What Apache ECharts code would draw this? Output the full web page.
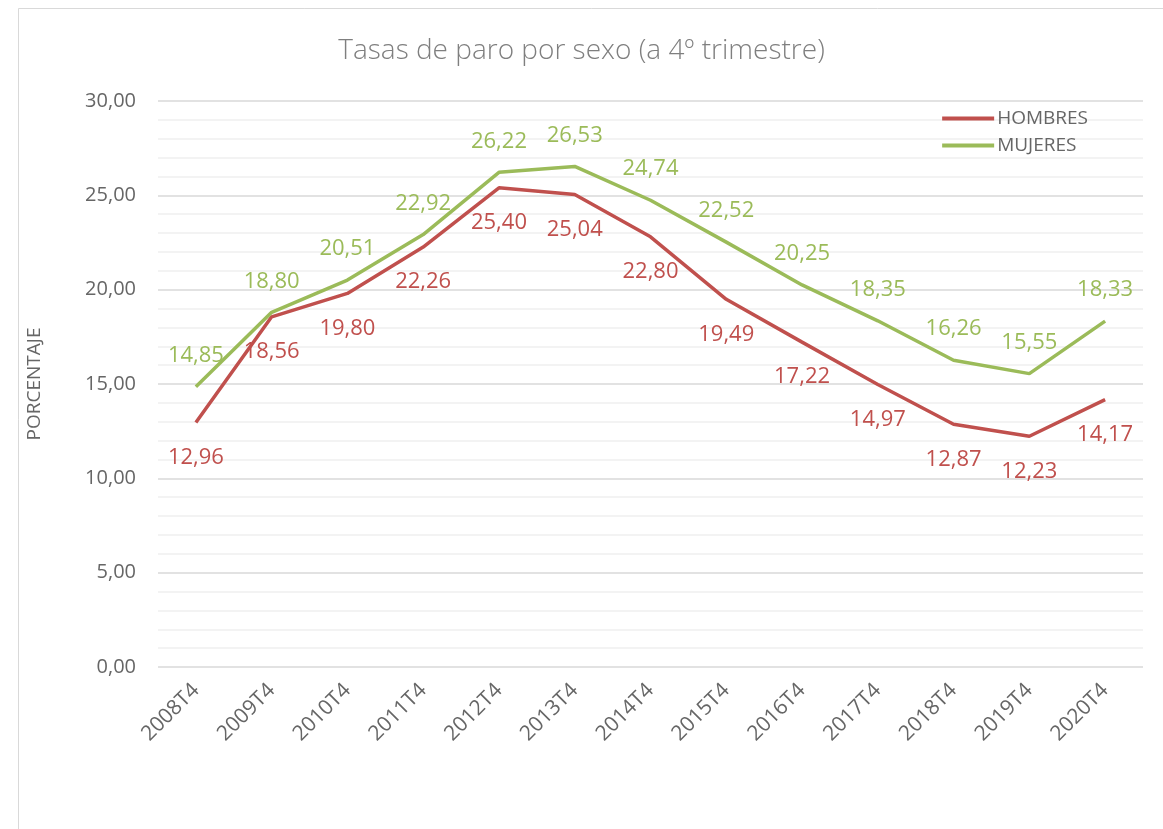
<!DOCTYPE html>
<html>
<head>
<meta charset="utf-8">
<script src="https://cdn.jsdelivr.net/npm/echarts@6/dist/echarts.min.js"></script>
<style>
  html, body { margin: 0; padding: 0; background: #fff; }
  #tubiao { width: 1163px; height: 829px; }
</style>
</head>
<body>
<div id="tubiao"></div>
<script>
// datos de la gráfica
var periodos = ['2008T4','2009T4','2010T4','2011T4','2012T4','2013T4','2014T4','2015T4','2016T4','2017T4','2018T4','2019T4','2020T4'];
var hombres = [12.96, 18.56, 19.80, 22.26, 25.40, 25.04, 22.80, 19.49, 17.22, 14.97, 12.87, 12.23, 14.17];
var mujeres = [14.85, 18.80, 20.51, 22.92, 26.22, 26.53, 24.74, 22.52, 20.25, 18.35, 16.26, 15.55, 18.33];

var fuente = '"Open Sans", "Noto Sans", sans-serif';

var myChart = echarts.init(document.getElementById('tubiao'));
var fmt = function (p) { return p.value.toFixed(2).replace('.', ','); };

var option = {
    backgroundColor: '#fff',
    textStyle: { fontFamily: fuente },
    title: {
        text: 'Tasas de paro por sexo (a 4º trimestre)',
        left: 'center',
        top: 32,
        textStyle: { fontFamily: fuente, fontSize: 28, fontWeight: 300, color: '#7f7f7f' }
    },
    legend: {
        orient: 'vertical',
        right: 70,
        top: 104,
        itemWidth: 52,
        itemHeight: 4,
        itemGap: 8,
        icon: 'rect',
        textStyle: { fontSize: 19, color: '#666', padding: [0, 0, 0, -2] },
        data: ['HOMBRES', 'MUJERES']
    },
    graphic: [{
        type: 'rect',
        shape: { x: 18.5, y: 8.5, width: 1200, height: 900 },
        style: { fill: 'none', stroke: '#d9d9d9', lineWidth: 1 },
        silent: true
    }],
    grid: { left: 158, right: 20, top: 101, bottom: 162 },
    xAxis: {
        type: 'category',
        data: periodos,
        boundaryGap: true,
        axisLine: { show: false },
        axisTick: { show: false },
        axisLabel: { rotate: 45, fontSize: 21, color: '#666', margin: 20 }
    },
    yAxis: {
        type: 'value',
        min: 0,
        max: 30,
        interval: 5,
        name: 'PORCENTAJE',
        nameLocation: 'middle',
        nameGap: 114,
        nameTextStyle: { fontSize: 19, color: '#666' },
        axisLine: { show: false },
        axisTick: { show: false },
        axisLabel: {
            fontSize: 20, color: '#666', margin: 22,
            formatter: function (v) { return v.toFixed(2).replace('.', ','); }
        },
        splitLine: { lineStyle: { color: '#d9d9d9', width: 1.5 } },
        minorTick: { show: false, splitNumber: 5 },
        minorSplitLine: { show: true, lineStyle: { color: '#f0f0f0', width: 1.5 } }
    },
    series: [
        {
            name: 'HOMBRES',
            type: 'line',
            data: hombres,
            showSymbol: true,
            symbol: 'circle',
            symbolSize: 0.1,
            itemStyle: { color: '#C0504D' },
            lineStyle: { color: '#C0504D', width: 3.5 },
            label: {
                show: true, position: 'bottom', distance: 24,
                fontSize: 22, color: '#C0504D', formatter: fmt
            }
        },
        {
            name: 'MUJERES',
            type: 'line',
            data: mujeres,
            showSymbol: true,
            symbol: 'circle',
            symbolSize: 0.1,
            itemStyle: { color: '#9BBB59' },
            lineStyle: { color: '#9BBB59', width: 3.5 },
            label: {
                show: true, position: 'top', distance: 20,
                fontSize: 22, color: '#9BBB59', formatter: fmt
            }
        }
    ]
};
myChart.setOption(option);
</script>
</body>
</html>
